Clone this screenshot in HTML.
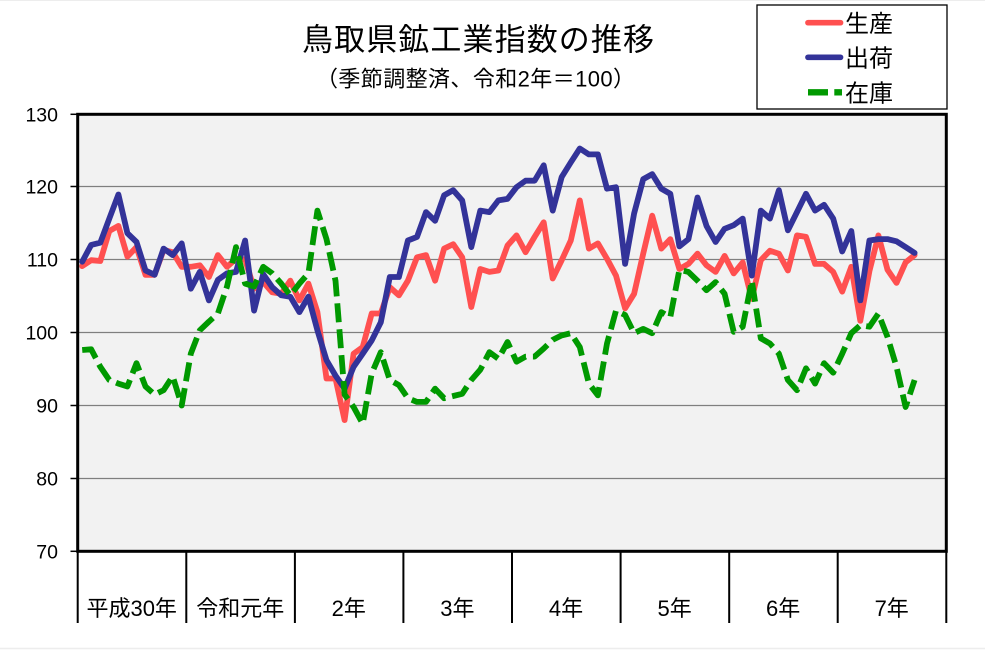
<!DOCTYPE html>
<html>
<head>
<meta charset="utf-8">
<style>
  html,body{margin:0;padding:0;background:#fff;}
  body{width:985px;height:650px;overflow:hidden;}
  svg{display:block;}
  .jp{font-family:"Liberation Sans","Noto Sans CJK JP",sans-serif;fill:#000;}
  .num{font-family:"Liberation Sans",sans-serif;fill:#000;}
</style>
</head>
<body>
<svg width="985" height="650" viewBox="0 0 985 650" xmlns="http://www.w3.org/2000/svg">
  <rect x="0" y="0" width="985" height="650" fill="#fff"/>
  <line x1="0" y1="0.5" x2="985" y2="0.5" stroke="#ededed" stroke-width="1"/>
  <line x1="0" y1="648.5" x2="985" y2="648.5" stroke="#ededed" stroke-width="1.5"/>

  <!-- Title -->
  <text class="jp" x="302" y="50.5" font-size="31" textLength="352" lengthAdjust="spacing">鳥取県鉱工業指数の推移</text>
  <text class="jp" x="316" y="86.5" font-size="22" textLength="319" lengthAdjust="spacing">（季節調整済、令和2年＝100）</text>

  <!-- Legend -->
  <rect x="757" y="5" width="190" height="104" fill="#fff" stroke="#000" stroke-width="1.3"/>
  <line x1="808" y1="22.7" x2="840.5" y2="22.7" stroke="#ff5050" stroke-width="5.7" stroke-linecap="round"/>
  <line x1="808" y1="57.3" x2="840.5" y2="57.3" stroke="#333399" stroke-width="5.7" stroke-linecap="round"/>
  <line x1="808" y1="92.3" x2="842" y2="92.3" stroke="#009900" stroke-width="6.3" stroke-dasharray="20 6.3"/>
  <text class="jp" x="845" y="32" font-size="24">生産</text>
  <text class="jp" x="845" y="66.7" font-size="24">出荷</text>
  <text class="jp" x="845" y="101.4" font-size="24">在庫</text>

  <!-- Plot area -->
  <rect x="77.7" y="114.3" width="868.6" height="437" fill="#f2f2f2"/>
  <g stroke="#7f7f7f" stroke-width="1.2">
    <line x1="77.7" y1="186.5" x2="946.3" y2="186.5"/>
    <line x1="77.7" y1="259.5" x2="946.3" y2="259.5"/>
    <line x1="77.7" y1="332.5" x2="946.3" y2="332.5"/>
    <line x1="77.7" y1="405.5" x2="946.3" y2="405.5"/>
    <line x1="77.7" y1="478.5" x2="946.3" y2="478.5"/>
  </g>

  <!-- Series: 生産 -->
  <polyline fill="none" stroke="#ff5050" stroke-width="5.8" stroke-linejoin="round" stroke-linecap="round"
   points="82.2,266.1 91.2,260.2 100.3,261.0 109.3,231.0 118.4,225.9 127.4,256.6 136.5,247.1 145.5,274.8 154.6,274.8 163.6,250.0 172.7,252.2 181.7,266.8 190.8,266.8 199.8,265.3 208.9,277.0 217.9,255.1 227.0,266.8 236.0,258.8 245.1,259.5 254.1,288.7 263.2,282.1 272.2,292.3 281.3,293.8 290.3,280.7 299.4,300.4 308.4,283.6 317.4,312.1 326.5,378.5 335.5,378.5 344.6,420.1 353.6,353.7 362.7,347.1 371.7,313.5 380.8,313.5 389.8,287.2 398.9,295.3 407.9,280.7 417.0,257.3 426.0,255.1 435.1,280.7 444.1,248.6 453.2,244.2 462.2,257.3 471.3,307.0 480.3,269.0 489.4,271.9 498.4,270.5 507.5,245.6 516.5,235.4 525.6,252.2 534.6,236.9 543.7,222.3 552.7,278.5 561.7,260.2 570.8,240.5 579.8,200.4 588.9,248.6 597.9,243.4 607.0,258.8 616.0,275.6 625.1,308.4 634.1,293.8 643.2,253.7 652.2,215.7 661.3,248.6 670.3,239.1 679.4,269.0 688.4,263.9 697.5,253.7 706.5,265.3 715.6,271.9 724.6,255.9 733.7,273.4 742.7,262.4 751.8,298.9 760.8,260.2 769.9,250.7 778.9,253.7 787.9,270.5 797.0,235.4 806.0,236.9 815.1,263.9 824.1,263.9 833.2,271.9 842.2,291.6 851.3,266.8 860.3,320.8 869.4,271.2 878.4,235.4 887.5,269.7 896.5,282.9 905.6,262.4 914.6,255.1"/>

  <!-- Series: 出荷 -->
  <polyline fill="none" stroke="#333399" stroke-width="5.8" stroke-linejoin="round" stroke-linecap="round"
   points="82.2,261.7 91.2,244.9 100.3,242.7 109.3,218.6 118.4,194.5 127.4,233.2 136.5,242.0 145.5,270.5 154.6,274.8 163.6,248.6 172.7,255.1 181.7,243.4 190.8,288.7 199.8,271.9 208.9,300.4 217.9,279.9 227.0,273.4 236.0,271.9 245.1,240.5 254.1,310.6 263.2,274.1 272.2,287.2 281.3,295.3 290.3,296.7 299.4,312.1 308.4,296.7 317.4,330.3 326.5,360.2 335.5,375.6 344.6,388.7 353.6,366.8 362.7,353.7 371.7,340.5 380.8,322.3 389.8,277.0 398.9,277.0 407.9,240.5 417.0,236.9 426.0,212.1 435.1,220.8 444.1,195.3 453.2,190.2 462.2,200.4 471.3,247.1 480.3,210.6 489.4,212.1 498.4,200.4 507.5,198.9 516.5,187.2 525.6,180.7 534.6,180.7 543.7,165.3 552.7,210.6 561.7,177.0 570.8,162.4 579.8,148.5 588.9,154.4 597.9,154.4 607.0,188.7 616.0,187.2 625.1,263.9 634.1,213.5 643.2,179.2 652.2,174.1 661.3,188.7 670.3,193.8 679.4,246.4 688.4,239.1 697.5,197.5 706.5,225.9 715.6,242.0 724.6,228.8 733.7,225.2 742.7,218.6 751.8,275.6 760.8,210.6 769.9,218.6 778.9,190.2 787.9,230.3 797.0,212.1 806.0,193.8 815.1,210.6 824.1,204.8 833.2,218.6 842.2,251.5 851.3,231.0 860.3,300.4 869.4,240.5 878.4,239.1 887.5,239.1 896.5,241.3 905.6,247.1 914.6,252.9"/>

  <!-- Series: 在庫 -->
  <polyline fill="none" stroke="#009900" stroke-width="5.8" stroke-linejoin="round" stroke-linecap="butt" stroke-dasharray="19 7"
   points="82.2,350.0 91.2,349.3 100.3,366.8 109.3,380.0 118.4,383.6 127.4,386.5 136.5,363.2 145.5,386.5 154.6,394.6 163.6,390.2 172.7,376.3 181.7,405.5 190.8,353.7 199.8,330.3 208.9,321.6 217.9,313.5 227.0,286.5 236.0,247.1 245.1,283.6 254.1,286.5 263.2,266.8 272.2,273.4 281.3,283.6 290.3,295.3 299.4,283.6 308.4,273.4 317.4,210.6 326.5,239.1 335.5,280.7 344.6,394.6 353.6,407.0 362.7,423.8 371.7,373.4 380.8,352.2 389.8,380.0 398.9,385.1 407.9,398.2 417.0,401.9 426.0,401.9 435.1,388.7 444.1,398.2 453.2,396.0 462.2,393.8 471.3,380.0 480.3,369.7 489.4,352.2 498.4,358.8 507.5,342.0 516.5,361.7 525.6,356.6 534.6,356.6 543.7,348.6 552.7,339.8 561.7,335.4 570.8,333.2 579.8,347.1 588.9,383.6 597.9,395.3 607.0,343.5 616.0,310.6 625.1,315.0 634.1,333.2 643.2,328.9 652.2,333.2 661.3,312.1 670.3,317.2 679.4,269.7 688.4,271.9 697.5,280.7 706.5,290.2 715.6,282.1 724.6,293.8 733.7,331.8 742.7,326.7 751.8,280.7 760.8,338.3 769.9,343.5 778.9,353.7 787.9,380.0 797.0,390.2 806.0,368.3 815.1,383.6 824.1,363.2 833.2,372.7 842.2,353.7 851.3,333.2 860.3,325.2 869.4,326.7 878.4,313.5 887.5,336.9 896.5,366.8 905.6,407.0 914.6,380.0"/>

  <!-- Frame -->
  <rect x="77.7" y="114.3" width="868.6" height="437" fill="none" stroke="#000" stroke-width="3"/>

  <!-- Y ticks -->
  <g stroke="#000" stroke-width="1.5">
    <line x1="70.5" y1="114.3" x2="77.7" y2="114.3"/>
    <line x1="70.5" y1="186.5" x2="77.7" y2="186.5"/>
    <line x1="70.5" y1="259.5" x2="77.7" y2="259.5"/>
    <line x1="70.5" y1="332.5" x2="77.7" y2="332.5"/>
    <line x1="70.5" y1="405.5" x2="77.7" y2="405.5"/>
    <line x1="70.5" y1="478.5" x2="77.7" y2="478.5"/>
    <line x1="70.5" y1="551.3" x2="77.7" y2="551.3"/>
  </g>
  <!-- Y labels -->
  <g class="num" font-size="19.5" text-anchor="end">
    <text x="58" y="121.3">130</text>
    <text x="58" y="193.5">120</text>
    <text x="58" y="266.5">110</text>
    <text x="58" y="339.5">100</text>
    <text x="58" y="412.5">90</text>
    <text x="58" y="485.5">80</text>
    <text x="58" y="558.3">70</text>
  </g>

  <!-- Category separators -->
  <g stroke="#000" stroke-width="2">
    <line x1="77.7" y1="551" x2="77.7" y2="623"/>
    <line x1="186.3" y1="551" x2="186.3" y2="623"/>
    <line x1="294.9" y1="551" x2="294.9" y2="623"/>
    <line x1="403.4" y1="551" x2="403.4" y2="623"/>
    <line x1="512.0" y1="551" x2="512.0" y2="623"/>
    <line x1="620.6" y1="551" x2="620.6" y2="623"/>
    <line x1="729.2" y1="551" x2="729.2" y2="623"/>
    <line x1="837.7" y1="551" x2="837.7" y2="623"/>
    <line x1="946.3" y1="551" x2="946.3" y2="623"/>
  </g>
  <!-- Category labels -->
  <g class="jp" font-size="22" text-anchor="middle">
    <text x="131.7" y="616">平成30年</text>
    <text x="240.3" y="616">令和元年</text>
    <text x="348.8" y="616">2年</text>
    <text x="457.4" y="616">3年</text>
    <text x="566.0" y="616">4年</text>
    <text x="674.6" y="616">5年</text>
    <text x="783.1" y="616">6年</text>
    <text x="891.7" y="616">7年</text>
  </g>
</svg>
</body>
</html>
